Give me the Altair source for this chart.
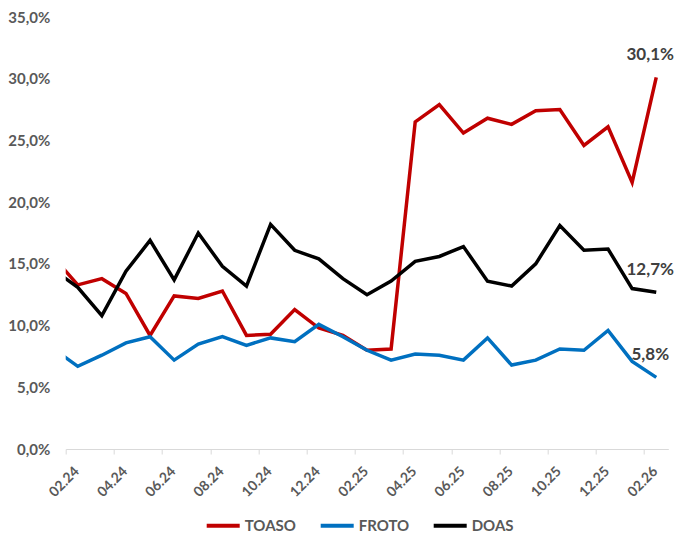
import json
import altair as alt
import pandas as pd

# Monthly series, 01.24 ... 02.26 (01.24 lies left of the axis start and is clipped)
months = ["01.24", "02.24", "03.24", "04.24", "05.24", "06.24", "07.24", "08.24",
          "09.24", "10.24", "11.24", "12.24", "01.25", "02.25", "03.25", "04.25",
          "05.25", "06.25", "07.25", "08.25", "09.25", "10.25", "11.25", "12.25",
          "01.26", "02.26"]
toaso = [15.5, 13.3, 13.8, 12.6, 9.2, 12.4, 12.2, 12.8, 9.2, 9.3, 11.3, 9.8, 9.2,
         8.0, 8.1, 26.5, 27.9, 25.6, 26.8, 26.3, 27.4, 27.5, 24.6, 26.1, 21.6, 30.1]
froto = [8.1, 6.7, 7.6, 8.6, 9.1, 7.2, 8.5, 9.1, 8.4, 9.0, 8.7, 10.1, 9.1,
         8.0, 7.2, 7.7, 7.6, 7.2, 9.0, 6.8, 7.2, 8.1, 8.0, 9.6, 7.1, 5.8]
doas = [14.5, 13.1, 10.8, 14.4, 16.9, 13.7, 17.5, 14.8, 13.2, 18.2, 16.1, 15.4, 13.8,
        12.5, 13.6, 15.2, 15.6, 16.4, 13.6, 13.2, 15.0, 18.1, 16.1, 16.2, 13.0, 12.7]
tick_labels = ["02.24", "04.24", "06.24", "08.24", "10.24", "12.24", "02.25",
               "04.25", "06.25", "08.25", "10.25", "12.25", "02.26"]
series_names = ["TOASO", "FROTO", "DOAS"]
series_colors = ["#C00000", "#0070C0", "#000000"]

rows = []
for name, vals in zip(series_names, [toaso, froto, doas]):
    for i, (m, v) in enumerate(zip(months, vals)):
        rows.append({"month": m, "idx": i, "series": name, "value": v})
df = pd.DataFrame(rows)
df["pos"] = df["idx"] - 0.5
last_month = months[-1]

FONT = "Lato"
GREY = "#595959"

x_label_expr = json.dumps(tick_labels) + "[datum.value / 2]"

x_enc = alt.X(
    "pos:Q",
    scale=alt.Scale(domain=[0, 25], nice=False, zero=False),
    axis=alt.Axis(
        values=list(range(0, 25, 2)),
        labelExpr=x_label_expr,
        title=None,
        grid=False,
        domainColor="#d9d9d9",
        tickColor="#d9d9d9",
        tickSize=5,
        labelAngle=-45,
        labelAlign="right",
        labelBaseline="middle",
        labelOffset=11,
        labelPadding=15,
        labelFont=FONT,
        labelFontWeight="bold",
        labelFontSize=14,
        labelColor=GREY,
        labelOverlap=False,
        labelBound=False,
        labelFlush=False,
    ),
)
y_enc = alt.Y(
    "value:Q",
    scale=alt.Scale(domain=[0, 35], nice=False),
    axis=alt.Axis(
        values=list(range(0, 36, 5)),
        labelExpr="replace(format(datum.value, '.1f'), '.', ',') + '%'",
        title=None,
        grid=False,
        domain=False,
        ticks=False,
        labelPadding=16,
        labelFont=FONT,
        labelFontWeight="bold",
        labelFontSize=15,
        labelColor=GREY,
    ),
)

lines = alt.Chart(df).mark_line(strokeWidth=3.5, clip=True).encode(
    x=x_enc,
    y=y_enc,
    color=alt.Color(
        "series:N",
        scale=alt.Scale(domain=series_names, range=series_colors),
        sort=series_names,
        legend=alt.Legend(
            title=None,
            orient="none",
            direction="horizontal",
            legendX=139,
            legendY=490,
            padding=0,
            symbolType="stroke",
            symbolSize=1089,
            symbolStrokeWidth=4,
            labelOffset=3,
            columnPadding=16,
            labelFont=FONT,
            labelFontWeight="bold",
            labelFontSize=15,
            labelColor=GREY,
        ),
    ),
    detail="series:N",
)

labels = alt.Chart(df).transform_filter(
    alt.datum.month == last_month
).transform_calculate(
    txt="replace(format(datum.value, '.1f'), '.', ',') + '%'"
).mark_text(
    dy=-22, dx=-6, align="center", baseline="middle",
    font=FONT, fontWeight="bold", fontSize=17, color="#404040",
).encode(x="pos:Q", y="value:Q", text="txt:N")

chart = alt.layer(lines, labels).properties(
    width=602.6,
    height=432,
    padding={"left": 57.7, "top": 9, "right": 6.7, "bottom": 84},
    autosize=alt.AutoSizeParams(type="none"),
).configure_view(stroke=None)

chart.save("out.html", embed_options={"renderer": "svg", "actions": False})
